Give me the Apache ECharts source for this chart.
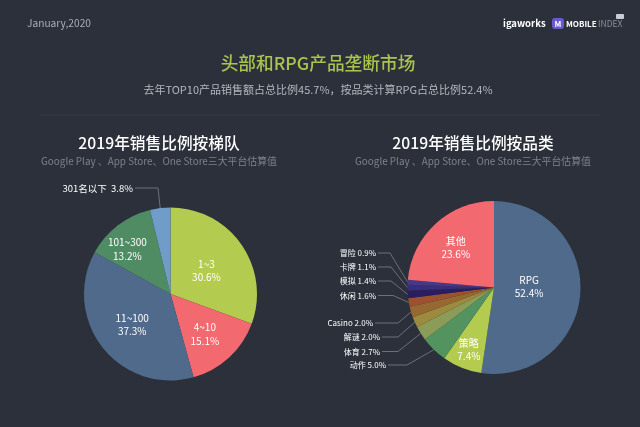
<!DOCTYPE html>
<html>
<head>
<meta charset="utf-8">
<style>
  html, body { margin: 0; padding: 0; background: #2b303b; }
  #chart { width: 640px; height: 427px; }
</style>
<script src="https://cdn.jsdelivr.net/npm/echarts@6/dist/echarts.min.js"></script>
</head>
<body>
<div id="chart"></div>
<script>
const tierNames = ['1~3', '4~10', '11~100', '101~300', '301名以下'];
const tierValues = [30.6, 15.1, 37.3, 13.2, 3.8];
const tierColors = ['#b3cb4e', '#f2696f', '#506a8c', '#4f8c64', '#709cc9'];

const genreNames = ['RPG', '策略', '动作', '体育', '解谜', 'Casino', '休闲', '模拟', '卡牌', '冒险', '其他'];
const genreValues = [52.4, 7.4, 5.0, 2.7, 2.0, 2.0, 1.6, 1.4, 1.1, 0.9, 23.6];
const genreColors = ['#506a8c', '#b3cb4e', '#52935f', '#8b9c58', '#9c8a3e', '#97682f', '#9c5230', '#2a1f5e', '#3a2e78', '#46398a', '#f2696f'];

// label placement, by slice index
const tierInsideShift = { 0: [-2, 3], 1: [3, 6], 2: [-2, 2], 3: [-15, -8] };
const tierLabelSpots = { 4: [133, 188, 158] };
const genreInsideShift = { 0: [-11, -4], 1: [-8, 19], 10: [-7, -6] };
// [right end x, y, elbow x]
const genreLabelSpots = {
  2: [386, 365, 407],
  3: [380, 351.5, 398],
  4: [380, 337, 398],
  5: [373, 323, 398],
  6: [376, 295.5, 393],
  7: [376, 281, 391],
  8: [376, 267, 391],
  9: [376, 253, 390]
};

const FONT = '"Noto Sans CJK SC", "Noto Sans", sans-serif';
const INSIDE_MIN = 7;

function pieData(names, values, colors, outsideSize, gap) {
  return names.map((name, i) => {
    const item = { name, value: values[i], itemStyle: { color: colors[i] } };
    if (values[i] < INSIDE_MIN) {
      item.label = {
        position: 'outside',
        fontSize: outsideSize,
        formatter: p => p.name + gap + p.value.toFixed(1) + '%'
      };
    }
    return item;
  });
}

function layoutFor(shifts, spots) {
  return params => {
    const spot = spots[params.dataIndex];
    if (spot && params.labelLinePoints) {
      return {
        x: spot[0],
        y: spot[1],
        align: 'right',
        verticalAlign: 'middle',
        labelLinePoints: [params.labelLinePoints[0], [spot[2], spot[1]], [spot[0] + 2, spot[1]]]
      };
    }
    const shift = shifts[params.dataIndex];
    return shift ? { dx: shift[0], dy: shift[1] } : {};
  };
}

function headerText(text, x, y, size, color, weight) {
  return {
    type: 'text', x, y,
    style: { text, fill: color, font: (weight || 400) + ' ' + size + 'px ' + FONT, textAlign: 'center', textVerticalAlign: 'middle' }
  };
}

const chart = echarts.init(document.getElementById('chart'), null, { renderer: 'canvas' });

chart.setOption({
  animation: false,
  backgroundColor: '#2b303b',
  graphic: [
    { type: 'text', x: 27, y: 23, style: { text: 'January,2020', fill: '#a9adb5', font: '10.2px ' + FONT, textVerticalAlign: 'middle' } },
    headerText('头部和RPG产品垄断市场', 318, 63, 17.7, '#a9c44c', 500),
    headerText('去年TOP10产品销售额占总比例45.7%，按品类计算RPG占总比例52.4%', 318, 90, 11, '#b4b7bd'),
    { type: 'line', shape: { x1: 40, y1: 115, x2: 600, y2: 115 }, style: { stroke: '#363b46', lineWidth: 1 } },
    headerText('2019年销售比例按梯队', 159, 143, 15.7, '#ffffff', 500),
    headerText('Google Play 、App Store、One Store三大平台估算值', 159, 161, 9.9, '#7d818a'),
    headerText('2019年销售比例按品类', 473, 143, 15.7, '#ffffff', 500),
    headerText('Google Play 、App Store、One Store三大平台估算值', 473, 161, 9.9, '#7d818a'),
    // logos top right
    { type: 'text', x: 503, y: 23, style: { text: 'igaworks', fill: '#ffffff', font: '700 9.5px ' + FONT, textVerticalAlign: 'middle' } },
    { type: 'rect', shape: { x: 552, y: 18, width: 12, height: 11, r: 3 }, style: { fill: '#6a5acd' } },
    { type: 'text', x: 558, y: 23.5, style: { text: 'M', fill: '#ffffff', font: '700 8px ' + FONT, textAlign: 'center', textVerticalAlign: 'middle' } },
    { type: 'text', x: 566, y: 24, style: { text: 'MOBILE', fill: '#ffffff', font: '700 8px ' + FONT, textVerticalAlign: 'middle' } },
    { type: 'text', x: 598, y: 24, style: { text: 'INDEX', fill: '#8a8e96', font: '8.5px ' + FONT, textVerticalAlign: 'middle' } },
    { type: 'rect', shape: { x: 616, y: 14, width: 8, height: 5, r: 1 }, style: { fill: '#c9ccd2' } }
  ],
  series: [
    {
      type: 'pie',
      center: [170.5, 294],
      radius: [0, 86.5],
      startAngle: 90,
      clockwise: true,
      data: pieData(tierNames, tierValues, tierColors, 9.5, '  '),
      itemStyle: { borderWidth: 0 },
      label: {
        position: 'inside',
        color: '#ffffff',
        fontFamily: FONT,
        fontSize: 10,
        lineHeight: 13.5,
        formatter: p => p.name + '\n' + p.value.toFixed(1) + '%'
      },
      labelLine: { show: true, lineStyle: { color: '#6c7079', width: 1 } },
      labelLayout: layoutFor(tierInsideShift, tierLabelSpots)
    },
    {
      type: 'pie',
      center: [494, 287.5],
      radius: [0, 86.5],
      startAngle: 90,
      clockwise: true,
      data: pieData(genreNames, genreValues, genreColors, 8, ' '),
      itemStyle: { borderWidth: 0 },
      label: {
        position: 'inside',
        color: '#ffffff',
        fontFamily: FONT,
        fontSize: 10,
        lineHeight: 13,
        formatter: p => p.name + '\n' + p.value.toFixed(1) + '%'
      },
      labelLine: { show: true, lineStyle: { color: '#6c7079', width: 1 } },
      labelLayout: layoutFor(genreInsideShift, genreLabelSpots)
    }
  ]
});
</script>
</body>
</html>
